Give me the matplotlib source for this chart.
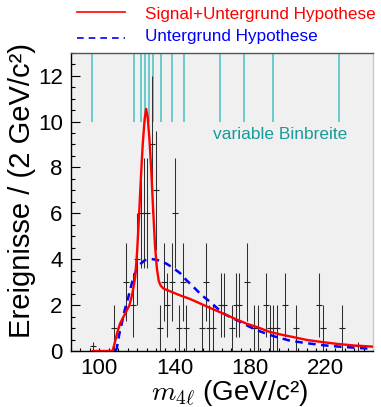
import numpy as np
import matplotlib
matplotlib.use('Agg')
import matplotlib.pyplot as plt
from matplotlib.lines import Line2D
from matplotlib.ticker import MultipleLocator

plt.rcParams['font.family'] = ['Liberation Sans', 'DejaVu Sans']
plt.rcParams['mathtext.fontset'] = 'cm'

# events: mass (GeV), value, error
mass = [96.8, 107.8, 114.0, 118.0, 120.1, 121.9, 123.7, 125.4, 128.1, 129.9,
        132.0, 134.3, 136.1, 138.4, 140.1, 142.2, 144.2, 145.9, 154.2, 156.3,
        158.3, 160.1, 164.3, 166.2, 170.1, 172.2, 174.2, 178.2, 182.2, 184.2,
        188.3, 190.4, 192.2, 194.3, 198.4, 204.2, 216.5, 218.3, 228.7, 237.3]
counts = [0.2, 1, 3, 2, 4, 6, 6, 6, 9, 7,
          1, 3, 2, 3, 6, 1, 3, 1, 1, 3,
          1, 1, 2, 2, 1, 2, 2, 3, 1, 1,
          2, 1, 1, 1, 2, 1, 2, 1, 1, 0.2]
errs = [0.2, 1.0, 1.7, 1.4, 2.0, 2.4, 2.4, 2.4, 3.0, 2.6,
        1.0, 1.7, 1.4, 1.7, 2.4, 1.0, 1.7, 1.0, 1.0, 1.7,
        1.0, 1.0, 1.4, 1.4, 1.0, 1.4, 1.4, 1.7, 1.0, 1.0,
        1.4, 1.0, 1.0, 1.0, 1.4, 1.0, 1.4, 1.0, 1.0, 0.2]

# signal + background curve
sb_x = [96.5, 107.0, 108.0, 109.5, 111.0, 113.5, 116.0, 117.5, 119.0, 120.0,
        121.0, 122.0, 123.0, 124.0, 124.8, 125.6, 126.5, 127.5, 128.5, 129.5,
        130.5, 131.5, 132.5, 134.0, 137.0, 142.0, 148.0, 154.0, 160.0, 166.0,
        172.0, 178.0, 184.0, 190.0, 196.0, 202.0, 210.0, 218.0, 226.0, 235.0, 245.0]
sb_y = [0.0, 0.0, 0.3, 0.8, 1.2, 1.6, 2.0, 2.5, 3.2, 4.3,
        5.8, 7.5, 9.0, 10.1, 10.55, 10.2, 9.3, 7.9, 6.2, 4.6,
        3.6, 3.05, 2.85, 2.72, 2.62, 2.45, 2.27, 2.05, 1.83, 1.62,
        1.40, 1.19, 1.03, 0.84, 0.72, 0.62, 0.48, 0.39, 0.31, 0.24, 0.19]

# background only curve
b_x = [108.5, 109.2, 110.5, 111.9, 113.5, 115.4, 118.0, 120.0, 121.6, 124.0,
       126.0, 128.5, 131.3, 135.7, 138.5, 142.7, 146.0, 149.8, 154.0, 158.6,
       162.0, 165.7, 170.0, 174.5, 179.0, 183.4, 188.0, 192.2, 201.0, 210.0,
       218.7, 227.0, 236.4, 243.4]
b_y = [0.0, 0.1, 0.7, 1.2, 1.8, 2.36, 3.2, 3.6, 3.78, 3.95,
       4.0, 4.0, 3.95, 3.8, 3.65, 3.4, 3.1, 2.8, 2.45, 2.15,
       1.9, 1.64, 1.45, 1.28, 1.08, 0.91, 0.77, 0.65, 0.45, 0.34,
       0.25, 0.19, 0.14, 0.10]

# variable bin edges
edges = [96.3, 118.5, 121.9, 124.4, 126.5, 128.6, 132.8, 138.7, 145.0,
         163.9, 176.8, 192.0, 227.0]

W, H = 381, 407
fig = plt.figure(figsize=(W / 100, H / 100), dpi=100)
ax = fig.add_axes([71 / W, 56 / H, 302 / W, 298.3 / H])
ax.set_facecolor('#f0f0f0')

ax.vlines(edges, 10, 13, color='#55c4c4', lw=1.2, zorder=1)
ax.text(160.2, 9.43, 'variable Binbreite', color='#1a9a9a', fontsize=12.5,
        ha='left', va='center')

ax.errorbar(mass, counts, yerr=errs, fmt='_', color='#222222', ecolor='#303030',
            elinewidth=0.75, ms=4, mew=0.8, zorder=2)
ax.plot(b_x, b_y, color='blue', lw=1.8, dashes=(3, 2.2), zorder=3)
ax.plot(sb_x, sb_y, color='red', lw=1.7, zorder=4)

ax.set_xlim(85, 245)
ax.set_ylim(0, 13)
ax.set_xticks([100, 140, 180, 220])
ax.xaxis.set_minor_locator(MultipleLocator(5))
ax.yaxis.set_major_locator(MultipleLocator(2))
ax.yaxis.set_minor_locator(MultipleLocator(0.5))
ax.tick_params(axis='y', which='both', direction='in', labelsize=16, pad=6)
ax.tick_params(axis='y', which='major', length=6.5, width=0.8)
ax.tick_params(axis='y', which='minor', length=3.2, width=0.8)
ax.tick_params(axis='x', which='both', direction='in', labelsize=16, pad=5,
               length=2.5, width=0.8)

ax.spines['left'].set_color('k')
ax.spines['bottom'].set_color('k')
ax.spines['top'].set_color('#555555')
ax.spines['right'].set_color('#c8c8c8')
for s in ax.spines.values():
    s.set_linewidth(1.0)

fig.text(22 / W, 1 - 190 / H, 'Ereignisse / (2 GeV/c²)', rotation=90,
         ha='center', va='center', fontsize=21)
fig.text(229 / W, 1 - 393 / H, r'$m_{4\ell}$ (GeV/c²)', ha='center',
         va='center', fontsize=20)

# legend
fig.add_artist(Line2D([77 / W, 125 / W], [1 - 12 / H, 1 - 12 / H],
                      color='red', lw=1.2))
fig.add_artist(Line2D([77 / W, 125 / W], [1 - 38 / H, 1 - 38 / H],
                      color='blue', lw=1.2, dashes=(4, 3)))
fig.text(145 / W, 1 - 15 / H, 'Signal+Untergrund Hypothese', color='red',
         fontsize=12.3, ha='left', va='center')
fig.text(145 / W, 1 - 37 / H, 'Untergrund Hypothese', color='blue',
         fontsize=12.3, ha='left', va='center')

fig.savefig('out.png', dpi=100)
